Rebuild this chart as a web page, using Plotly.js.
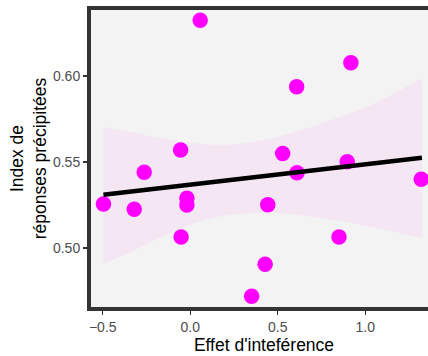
<!DOCTYPE html>
<html>
<head>
<meta charset="utf-8">
<script src="https://cdn.plot.ly/plotly-3.0.1.min.js"></script>
<style>
html, body { margin: 0; padding: 0; overflow: hidden; background: #fff; }
#chart { width: 442px; height: 356px; }
</style>
</head>
<body>
<div id="chart"></div>
<script>
// Data points
var effetX = [-0.496, -0.32, -0.263, -0.055, -0.019, -0.019, -0.052, 0.057, 0.528, 0.61, 0.608, 0.897, 0.918, 0.443, 0.428, 0.351, 0.85, 1.32];
var indexY = [0.5256, 0.5225, 0.544, 0.557, 0.5289, 0.525, 0.5064, 0.6325, 0.555, 0.5438, 0.5938, 0.5502, 0.6077, 0.5252, 0.4905, 0.4719, 0.5064, 0.540];

// Regression line and confidence band
var fitX = [-0.496, 1.324];
var fitY = [0.531, 0.5525];
var bandUpperX = [-0.496, -0.354, -0.163, 0.027, 0.179, 0.313, 0.501, 0.694, 0.884, 1.074, 1.324];
var bandUpperY = [0.5703, 0.5676, 0.5638, 0.5609, 0.5599, 0.5609, 0.5647, 0.5705, 0.5773, 0.5851, 0.5988];
var bandLowerX = [-0.496, -0.354, -0.163, 0.027, 0.217, 0.465, 0.694, 0.884, 1.074, 1.324];
var bandLowerY = [0.4909, 0.4969, 0.5066, 0.5144, 0.5192, 0.5205, 0.5182, 0.5153, 0.5114, 0.506];

// Ticks
var xTickVals = [-0.5, 0, 0.5, 1.0];
var xTickText = ['\u22120.5', '0.0', '0.5', '1.0'];
var yTickVals = [0.50, 0.55, 0.60];
var yTickText = ['0.50', '0.55', '0.60'];

var bandFill = '#f4e6f3';

var traces = [
  {x: bandLowerX, y: bandLowerY, type: 'scatter', mode: 'lines',
   line: {width: 0, shape: 'spline', color: bandFill}, hoverinfo: 'skip', showlegend: false},
  {x: bandUpperX, y: bandUpperY, type: 'scatter', mode: 'lines', fill: 'tonexty',
   fillcolor: bandFill, line: {width: 0, shape: 'spline', color: bandFill}, hoverinfo: 'skip', showlegend: false},
  {x: effetX, y: indexY, type: 'scatter', mode: 'markers',
   marker: {color: '#ff00ff', size: 15.5, line: {width: 0}}, showlegend: false},
  {x: fitX, y: fitY, type: 'scatter', mode: 'lines',
   line: {color: '#000000', width: 4.5}, showlegend: false}
];

var axisFont = {family: 'Liberation Sans, Arial, sans-serif', size: 14, color: '#4d4d4d'};
var titleFont = {family: 'Liberation Sans, Arial, sans-serif', size: 17.5, color: '#000000'};

var layout = {
  width: 442, height: 356,
  margin: {l: 91, r: 5, t: 10, b: 49, pad: 0},
  paper_bgcolor: '#ffffff',
  plot_bgcolor: '#f3f3f3',
  showlegend: false,
  xaxis: {
    range: [-0.567, 1.41],
    tickvals: xTickVals, ticktext: xTickText,
    showgrid: false, zeroline: false,
    showline: true, linecolor: '#333333', linewidth: 4, mirror: true,
    ticks: 'outside', ticklen: 4, tickwidth: 1.2, tickcolor: '#333333',
    tickfont: axisFont,
    title: {text: "Effet d'inteférence", font: titleFont, standoff: 4},
    automargin: false
  },
  yaxis: {
    range: [0.4657, 0.6384],
    tickvals: yTickVals, ticktext: yTickText,
    showgrid: false, zeroline: false,
    showline: true, linecolor: '#333333', linewidth: 4, mirror: true,
    ticks: 'outside', ticklen: 4, tickwidth: 1.2, tickcolor: '#333333',
    tickfont: axisFont,
    title: {text: 'Index de<br>réponses précipitées', font: titleFont, standoff: 3},
    automargin: false
  }
};

Plotly.newPlot('chart', traces, layout, {displayModeBar: false, staticPlot: true});
</script>
</body>
</html>
